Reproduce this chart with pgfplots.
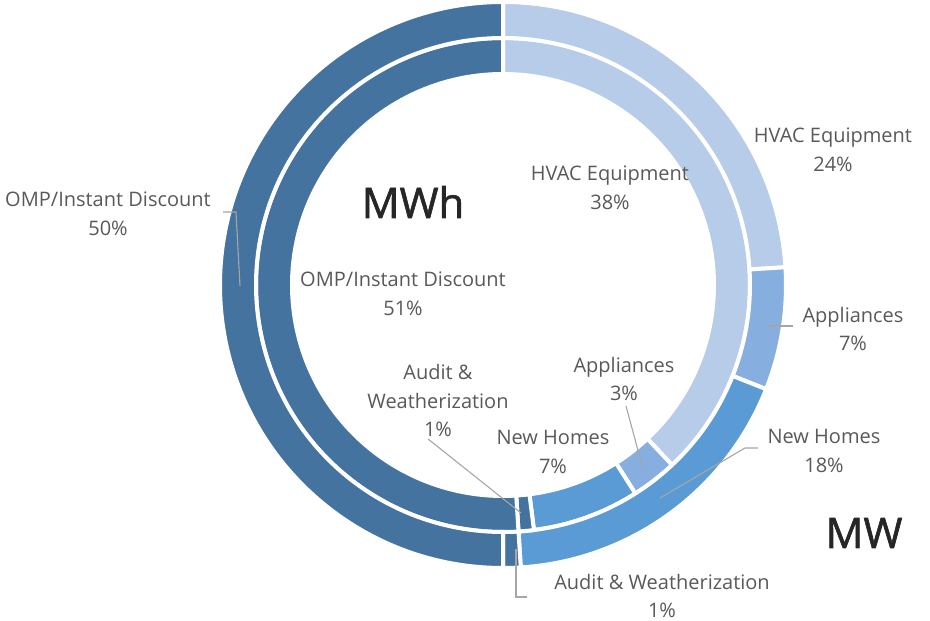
\documentclass[border=0pt]{standalone}
\usepackage{pgfplots}
\pgfplotsset{compat=1.18}
\usepackage{pgfplotstable}
\usepackage{fontspec}
\setmainfont{Open Sans}
\newfontfamily\bigfont[FakeBold=1.5]{Open Sans}
\usetikzlibrary{calc}

\definecolor{cOMP}{HTML}{44739F}
\definecolor{cHVAC}{HTML}{B7CCE9}
\definecolor{cAppl}{HTML}{86AEDE}
\definecolor{cNewH}{HTML}{5B9BD5}
\definecolor{labelgray}{HTML}{595959}
\definecolor{leadergray}{HTML}{A6A6A6}

% shares in percent, clockwise from 12 o'clock
% inner ring: MWh
\pgfplotstableread{
name value color
HVAC 38 cHVAC
Appliances 3 cAppl
NewHomes 7 cNewH
Audit 1 cOMP
OMP 51 cOMP
}\mwhdata
% outer ring: MW
\pgfplotstableread{
name value color
HVAC 24 cHVAC
Appliances 7 cAppl
NewHomes 18 cNewH
Audit 1 cOMP
OMP 50 cOMP
}\mwdata

% start/end angles and colours of each slice -> \<prefix>s<i>, \<prefix>e<i>, colour ring<prefix><i>
\newcommand\ringangles[2]{%
  \def\cum{90}%
  \pgfplotsforeachungrouped \i in {0,...,4}{%
    \pgfplotstablegetelem{\i}{value}\of#1%
    \pgfmathsetmacro\nxt{\cum-3.6*\pgfplotsretval}%
    \expandafter\xdef\csname #2s\i\endcsname{\cum}%
    \expandafter\xdef\csname #2e\i\endcsname{\nxt}%
    \pgfplotstablegetelem{\i}{color}\of#1%
    \colorlet{ring#2\i}{\pgfplotsretval}%
    \global\let\cum\nxt
  }}
\ringangles{\mwhdata}{in}
\ringangles{\mwdata}{out}

\newcommand\lbl{\fontsize{20}{28.5}\selectfont}

\begin{document}
\begin{tikzpicture}
\begin{axis}[
  x=1pt, y=1pt,
  xmin=0, xmax=930, ymin=0, ymax=620,
  hide axis, clip=false,
  scale only axis,
]
\path (axis cs:0,0) rectangle (axis cs:930,620);

% inner ring 211..247, outer ring 247..283 (before the white borders)
\pgfplotsinvokeforeach{0,...,4}{%
  \edef\seg{\noexpand\fill[ringin#1,draw=white,line width=4pt]
    ($(axis cs:503,336)+(\csname ins#1\endcsname:247pt)$)
    arc[start angle=\csname ins#1\endcsname, end angle=\csname ine#1\endcsname, radius=247pt]
    -- ($(axis cs:503,336)+(\csname ine#1\endcsname:211pt)$)
    arc[start angle=\csname ine#1\endcsname, end angle=\csname ins#1\endcsname, radius=211pt]
    -- cycle;}%
  \seg
  \edef\seg{\noexpand\fill[ringout#1,draw=white,line width=4pt]
    ($(axis cs:503,336)+(\csname outs#1\endcsname:283pt)$)
    arc[start angle=\csname outs#1\endcsname, end angle=\csname oute#1\endcsname, radius=283pt]
    -- ($(axis cs:503,336)+(\csname oute#1\endcsname:247pt)$)
    arc[start angle=\csname oute#1\endcsname, end angle=\csname outs#1\endcsname, radius=247pt]
    -- cycle;}%
  \seg
}

% leader lines
\draw[leadergray, line width=1.1pt] (axis cs:223,409) -- (axis cs:236,409) -- (axis cs:240,335);
\draw[leadergray, line width=1.1pt] (axis cs:767,295) -- (axis cs:793,295);
\draw[leadergray, line width=1.1pt] (axis cs:660,123) -- (axis cs:745,173) -- (axis cs:758,173);
\draw[leadergray, line width=1.1pt] (axis cs:643,152) -- (axis cs:626,215);
\draw[leadergray, line width=1.1pt] (axis cs:428,182) -- (axis cs:521,108);
\draw[leadergray, line width=1.1pt] (axis cs:516,72) -- (axis cs:516,24) -- (axis cs:527,24);

% labels
\begin{scope}[every node/.style={text=labelgray, align=center, font=\lbl, inner sep=0pt}]
\node at (axis cs:833,471) {HVAC Equipment\\24\%};
\node at (axis cs:853,292) {Appliances\\7\%};
\node at (axis cs:824,170) {New Homes\\18\%};
\node at (axis cs:662,25) {Audit \& Weatherization\\1\%};
\node at (axis cs:108,407) {OMP/Instant Discount\\50\%};
\node at (axis cs:610,433) {HVAC Equipment\\38\%};
\node at (axis cs:403,327) {OMP/Instant Discount\\51\%};
\node at (axis cs:438,220) {Audit \&\\Weatherization\\1\%};
\node at (axis cs:624,242) {Appliances\\3\%};
\node at (axis cs:553,169) {New Homes\\7\%};
\end{scope}
\node[text=black!85, font=\bigfont\fontsize{42}{50}\selectfont, inner sep=0pt] at (axis cs:413,419) {MWh};
\node[text=black!85, font=\bigfont\fontsize{42}{50}\selectfont, inner sep=0pt] at (axis cs:864,88) {MW};
\end{axis}
\end{tikzpicture}
\end{document}
